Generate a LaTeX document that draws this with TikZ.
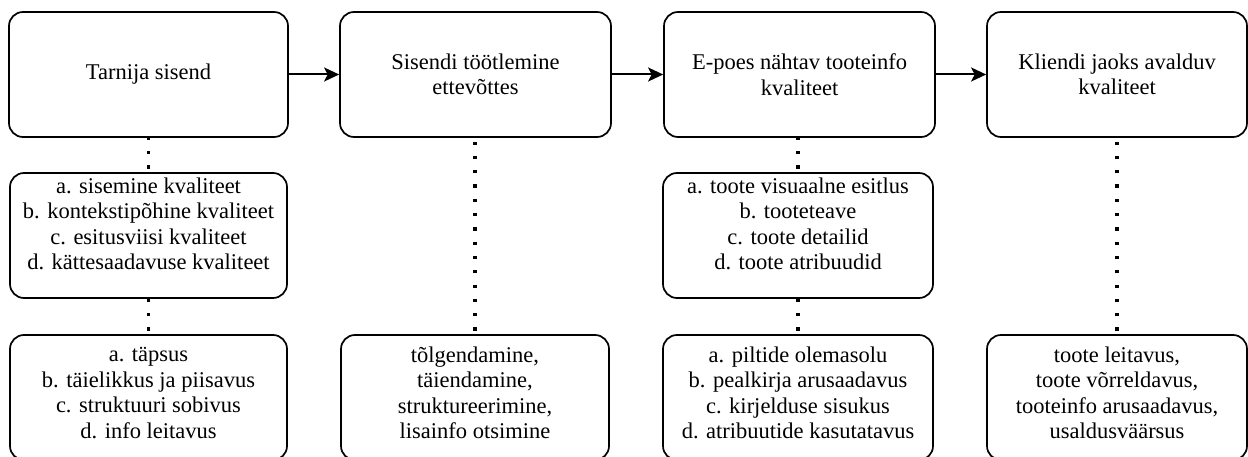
\documentclass[tikz,border=0pt]{standalone}
\usepackage{fontspec}
\setmainfont{Liberation Serif}
\usetikzlibrary{arrows.meta}

\tikzset{
  card/.style={draw, line width=1.7pt, rounded corners=14pt, inner sep=0pt,
    minimum height=125pt, font=\fontsize{22.5}{25.5}\selectfont, align=center},
  lbl/.style={inner sep=0pt, font=\fontsize{22.5}{25.5}\selectfont, align=center},
  flow/.style={line width=2pt, -{Stealth[length=15pt,width=14pt,inset=3.5pt]}},
  dotline/.style={line width=3.2pt, dash pattern=on 3.2pt off 11.1pt, dash phase=10.8pt},
}

\begin{document}
\begin{tikzpicture}[x=1pt, y=-1pt]
  \useasboundingbox (0,0) rectangle (1248,457);

  % main process chain
  \node[card, minimum width=279pt] (t1) at (148.5,74.5) {Tarnija sisend};
  \node[card, minimum width=271pt] (t2) at (475.5,74.5) {Sisendi töötlemine\\ettevõttes};
  \node[card, minimum width=271pt] (t3) at (799.5,74.5) {E-poes nähtav tooteinfo\\kvaliteet};
  \node[card, minimum width=260pt] (t4) at (1117,74.5) {Kliendi jaoks avalduv\\kvaliteet};

  \draw[flow] (t1) -- (t2);
  \draw[flow] (t2) -- (t3);
  \draw[flow] (t3) -- (t4);

  % quality dimensions
  \node[card, minimum width=277pt] (m1) at (148.5,235.5) {};
  \node[lbl] (m1t) at (148.5,224) {a. sisemine kvaliteet\\b. kontekstipõhine kvaliteet\\c. esitusviisi kvaliteet\\d. kättesaadavuse kvaliteet};
  \node[card, minimum width=270pt] (m3) at (798,235.5) {};
  \node[lbl] (m3t) at (798,224) {a. toote visuaalne esitlus\\b. tooteteave\\c. toote detailid\\d. toote atribuudid};

  % criteria per stage
  \node[card, minimum width=277pt] (b1) at (148.5,397.5) {};
  \node[lbl] (b1t) at (148.5,393) {a. täpsus\\b. täielikkus ja piisavus\\c. struktuuri sobivus\\d. info leitavus};
  \node[card, minimum width=268pt] (b2) at (475,397.5) {};
  \node[lbl] (b2t) at (475,393) {tõlgendamine,\\täiendamine,\\struktureerimine,\\lisainfo otsimine};
  \node[card, minimum width=270pt] (b3) at (798,397.5) {};
  \node[lbl] (b3t) at (798,393) {a. piltide olemasolu\\b. pealkirja arusaadavus\\c. kirjelduse sisukus\\d. atribuutide kasutatavus};
  \node[card, minimum width=260pt] (b4) at (1117,397.5) {};
  \node[lbl] (b4t) at (1117,393) {toote leitavus,\\toote võrreldavus,\\tooteinfo arusaadavus,\\usaldusväärsus};

  % dotted links between levels
  \draw[dotline] (m1.north) -- (m1.north |- t1.south);
  \draw[dotline] (b1.north) -- (b1.north |- m1.south);
  \draw[dotline] (b2.north) -- (b2.north |- t2.south);
  \draw[dotline] (m3.north) -- (m3.north |- t3.south);
  \draw[dotline] (b3.north) -- (b3.north |- m3.south);
  \draw[dotline] (b4.north) -- (b4.north |- t4.south);
\end{tikzpicture}
\end{document}
